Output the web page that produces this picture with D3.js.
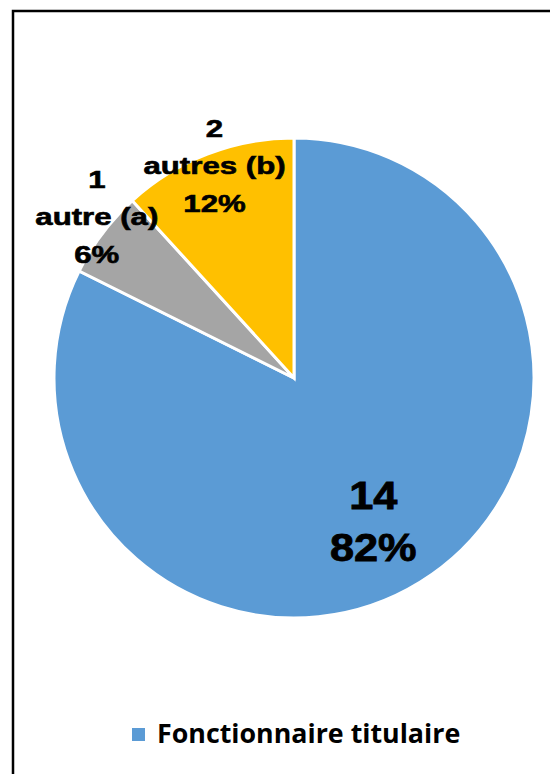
<!DOCTYPE html>
<html>
<head>
<meta charset="utf-8">
<script src="https://cdn.jsdelivr.net/npm/d3@7"></script>
<style>
  body { margin: 0; background: #fff; }
  svg { display: block; }
</style>
</head>
<body>
<div id="chart"></div>
<script>
// data
var categories = ["Fonctionnaire titulaire", "autre (a)", "autres (b)"];
var counts = [14, 1, 2];
var labelNames = ["", "autre (a)", "autres (b)"];
var percents = ["82%", "6%", "12%"];
var colors = ["#5B9BD5", "#A5A5A5", "#FFC000"];

var width = 550, height = 774;
var cx = 294, cy = 378, radius = 240;

var svg = d3.select("#chart").append("svg")
	.attr("width", width)
	.attr("height", height);

// outer frame (runs off the right and bottom edges)
svg.append("rect")
	.attr("x", 13)
	.attr("y", 11)
	.attr("width", 600)
	.attr("height", 800)
	.style("fill", "none")
	.style("stroke", "#000")
	.style("stroke-width", 2.5);

var data = categories.map(function(c, i){
	return {name: c, count: counts[i], label: labelNames[i], pct: percents[i], color: colors[i]};
});

var pie = d3.pie()
	.sort(null)
	.value(function(d){ return d.count; });

var arc = d3.arc()
	.innerRadius(0)
	.outerRadius(radius);

var g = svg.append("g")
	.attr("transform", "translate(" + cx + "," + cy + ")");

var arcs = pie(data);

g.selectAll("path")
	.data(arcs).enter()
	.append("path")
	.attr("d", arc)
	.style("fill", function(d){ return d.data.color; })
	.style("stroke", "#fff")
	.style("stroke-width", 3)
	.style("stroke-linejoin", "miter");

// label radius as a share of the pie radius, plus a small nudge, per slice
var labelR = [0.73, 1.04, 0.94];
var nudge = [[-13, -6], [2, -11], [2, -2]];

arcs.forEach(function(d, i){
	var la = d3.arc().innerRadius(radius * labelR[i]).outerRadius(radius * labelR[i]);
	var c = la.centroid(d);
	c[0] += nudge[i][0];
	c[1] += nudge[i][1];
	var big = i === 0;
	var lines = big ? [String(d.data.count), d.data.pct] : [String(d.data.count), d.data.label, d.data.pct];
	var lh = big ? 52 : 37.5;
	var fs = big ? 38 : 24;
	var sx = big ? 1.14 : 1.3;
	var top = c[1] - (lines.length - 1) * lh / 2;
	lines.forEach(function(t, j){
		g.append("text")
			.attr("transform", "translate(" + c[0] + "," + (top + j * lh + fs * 0.36) + ") scale(" + sx + ",1)")
			.style("text-anchor", "middle")
			.style("font-family", "'Liberation Sans', Arial, sans-serif")
			.style("font-weight", "bold")
			.style("font-size", fs + "px")
			.style("fill", "#000")
			.style("stroke", "#000")
			.style("stroke-width", big ? 0.8 : 0.6)
			.text(t);
	});
});

// legend: only the first entry is visible in the frame
var legend = svg.append("g")
	.attr("transform", "translate(132,728)");

legend.append("rect")
	.attr("width", 13)
	.attr("height", 13)
	.style("fill", colors[0]);

legend.append("text")
	.attr("x", 25)
	.attr("y", 15)
	.style("font-family", "'Open Sans', sans-serif")
	.style("font-weight", "bold")
	.style("font-size", "26.8px")
	.style("fill", "#000")
	.text(categories[0]);
</script>
</body>
</html>
